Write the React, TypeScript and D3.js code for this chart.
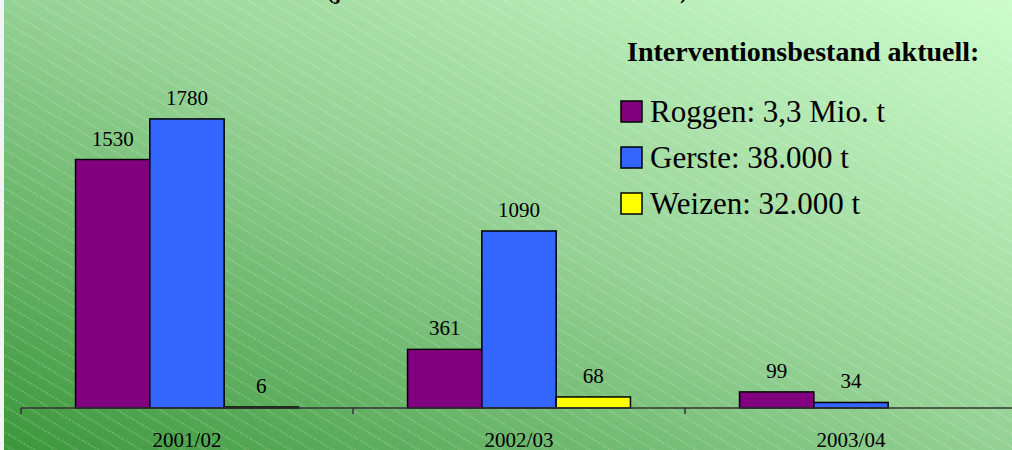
import React from 'react';
import * as d3 from 'd3';

const categories = ['2001/02', '2002/03', '2003/04'];
const seriesNames = ['Roggen', 'Gerste', 'Weizen'];
const roggen = [1530, 361, 99];
const gerste = [1780, 1090, 34];
const weizen = [6, 68, null];
const colors = ['#800080', '#3366ff', '#ffff00'];
const legendLabels = ['Roggen: 3,3 Mio. t', 'Gerste: 38.000 t', 'Weizen: 32.000 t'];
const legendTitle = 'Interventionsbestand aktuell:';
const topTitle = '(jeweils Interventionsankäufe in 1.000 t)';

const width = 1012;
const height = 450;
const font = '"Liberation Serif", "Times New Roman", serif';

const App = () => {
  const values = [roggen, gerste, weizen];

  const x0 = d3.scaleBand().domain(categories).range([21, 1017]).padding(0);
  const x1 = d3.scaleBand()
    .domain(seriesNames)
    .range([0, x0.bandwidth()])
    .paddingInner(0)
    .paddingOuter(0.734);
  const y = d3.scaleLinear().domain([0, 2000]).range([408, 83.2]);

  const tickXs = categories.map(c => x0(c)).concat([x0.range()[1]]);

  return (
    <svg width={width} height={height} style={{ position: 'fixed', left: 0, top: 0 }}>
      <defs>
        <linearGradient id="bg" x1="0" y1="1" x2="1" y2="0">
          <stop offset="0%" stopColor="#3b973b" />
          <stop offset="50%" stopColor="#94d194" />
          <stop offset="100%" stopColor="#ccfccc" />
        </linearGradient>
        <pattern id="hatch" width="11" height="11" patternUnits="userSpaceOnUse" patternTransform="rotate(31)">
          <line x1="0" y1="5" x2="11" y2="5" stroke="#ffffff" strokeOpacity="0.45" strokeWidth="0.8" strokeDasharray="2 1.5" />
        </pattern>
      </defs>
      <rect x={0} y={0} width={width} height={height} fill="#f4f4f4" />
      <rect x={4} y={0} width={width - 4} height={height} fill="url(#bg)" />
      <rect x={4} y={0} width={width - 4} height={height} fill="url(#hatch)" />

      <text x={327} y={-1} fontFamily={font} fontSize={21} fontWeight="bold">{topTitle}</text>

      {categories.map((c, i) => (
        <g key={c} transform={`translate(${x0(c)},0)`}>
          {seriesNames.map((s, j) => {
            const v = values[j][i];
            if (v == null) return null;
            return (
              <g key={s}>
                <rect
                  x={x1(s)}
                  y={y(v)}
                  width={x1.bandwidth()}
                  height={Math.max(0.5, y(0) - y(v))}
                  fill={colors[j]}
                  stroke="#000"
                  strokeWidth={1.5}
                />
                <text
                  x={(x1(s) as number) + x1.bandwidth() / 2}
                  y={y(v) - 14}
                  textAnchor="middle"
                  fontFamily={font}
                  fontSize={21}
                >{v}</text>
              </g>
            );
          })}
          <text
            x={x0.bandwidth() / 2}
            y={447}
            textAnchor="middle"
            fontFamily={font}
            fontSize={21}
          >{c}</text>
        </g>
      ))}

      <line x1={21} x2={width} y1={408} y2={408} stroke="#333" strokeWidth={1.5} />
      {tickXs.map((t, i) => (
        <line key={i} x1={t} x2={t} y1={408} y2={414} stroke="#333" strokeWidth={1.5} />
      ))}

      <text x={627} y={61} fontFamily={font} fontSize={28} fontWeight="bold">{legendTitle}</text>
      {legendLabels.map((l, i) => (
        <g key={l} transform={`translate(621,${101 + i * 46})`}>
          <rect x={0} y={0} width={21} height={21} fill={colors[i]} stroke="#000" strokeWidth={1.5} />
          <text x={29} y={21} fontFamily={font} fontSize={31}>{l}</text>
        </g>
      ))}
    </svg>
  );
};

export default App;
